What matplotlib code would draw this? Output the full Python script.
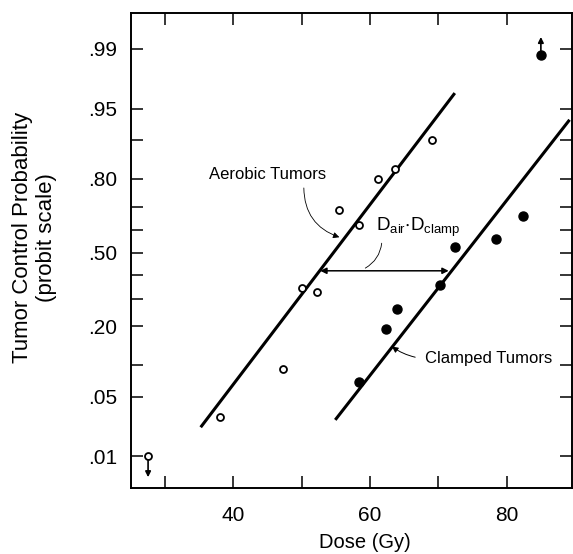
import numpy as np
import matplotlib
matplotlib.use("Agg")
import matplotlib.pyplot as plt
from matplotlib.ticker import FixedLocator, FixedFormatter, NullFormatter
from statistics import NormalDist

plt.rcParams["font.family"] = ["Liberation Sans", "DejaVu Sans"]
plt.rcParams["mathtext.fontset"] = "custom"
plt.rcParams["mathtext.rm"] = "Liberation Sans"

# aerobic tumors (open circles)
aer_dose = [27.5, 38.0, 47.2, 50.0, 52.2, 55.5, 58.4, 61.1, 63.7, 69.0]
aer_tcp = [0.01, 0.030, 0.092, 0.344, 0.327, 0.685, 0.625, 0.80, 0.83, 0.90]

# clamped tumors (filled circles)
clp_dose = [58.4, 62.3, 63.9, 70.2, 72.5, 78.4, 82.4, 85.0]
clp_tcp = [0.070, 0.191, 0.259, 0.355, 0.526, 0.564, 0.662, 0.988]

# fitted probit lines (end points)
aer_fit_dose = [35.2, 72.4]
aer_fit_tcp = [0.0231, 0.9658]
clp_fit_dose = [54.9, 89.2]
clp_fit_tcp = [0.0281, 0.9354]

# horizontal dose shift at TCP ~ .42
shift_tcp = 0.418
shift_dose = [52.7, 71.5]

y_major = [0.01, 0.05, 0.20, 0.50, 0.80, 0.95, 0.99]
y_major_labels = [".01", ".05", ".20", ".50", ".80", ".95", ".99"]
y_minor = [0.10, 0.30, 0.40, 0.60, 0.70, 0.90]
x_major = [40, 60, 80]
x_minor = [30, 50, 70]

_nd = NormalDist()


def probit(p):
    p = np.clip(np.asarray(p, dtype=float), 1e-9, 1 - 1e-9)
    return np.vectorize(_nd.inv_cdf, otypes=[float])(p)


def inv_probit(z):
    z = np.asarray(z, dtype=float)
    return np.vectorize(_nd.cdf, otypes=[float])(z)


fig = plt.figure(figsize=(5.73, 5.54), dpi=100)
ax = fig.add_axes([131 / 573, 66 / 554, 441.3 / 573, 475 / 554])
ax.set_yscale("function", functions=(probit, inv_probit))

ax.plot(aer_fit_dose, aer_fit_tcp, color="black", lw=2.2, solid_capstyle="butt")
ax.plot(clp_fit_dose, clp_fit_tcp, color="black", lw=2.2, solid_capstyle="butt")

ax.plot(aer_dose, aer_tcp, "o", ms=5, mfc="white", mec="black", mew=1.3, zorder=3)
ax.plot(clp_dose, clp_tcp, "o", ms=6.5, mfc="black", mec="black", zorder=3)

# censored points: arrows
ax.annotate("", xy=(aer_dose[0], aer_tcp[0]), xytext=(0, -15), textcoords="offset points",
            arrowprops=dict(arrowstyle="<|-", color="black", lw=1.2, shrinkA=0, shrinkB=3,
                            mutation_scale=8))
ax.annotate("", xy=(clp_dose[-1], clp_tcp[-1]), xytext=(0, 13), textcoords="offset points",
            arrowprops=dict(arrowstyle="<|-", color="black", lw=1.2, shrinkA=0, shrinkB=3,
                            mutation_scale=8))

# dose shift arrow
ax.annotate("", xy=(shift_dose[0], shift_tcp), xytext=(shift_dose[1], shift_tcp),
            arrowprops=dict(arrowstyle="<|-|>", color="black", lw=1.1, shrinkA=0, shrinkB=0,
                            mutation_scale=9))

# labels
ax.text(45.0, 0.813, "Aerobic Tumors", fontsize=12, ha="center", va="center")
ax.annotate("", xy=(55.5, 0.570), xytext=(50.3, 0.770),
            arrowprops=dict(arrowstyle="-|>", color="black", lw=0.6, shrinkA=0, shrinkB=0,
                            mutation_scale=9, connectionstyle="arc3,rad=0.35"))

ax.text(60.9, 0.598, r"$\mathregular{D_{air}{\cdot}D_{clamp}}$", fontsize=13.5,
        ha="left", va="baseline")
ax.annotate("", xy=(59.3, 0.430), xytext=(61.7, 0.543),
            arrowprops=dict(arrowstyle="-", color="black", lw=0.6, shrinkA=0, shrinkB=0,
                            connectionstyle="arc3,rad=-0.25"))

ax.text(68.05, 0.1125, "Clamped Tumors", fontsize=12, ha="left", va="center")
ax.annotate("", xy=(63.2, 0.1417), xytext=(66.6, 0.1163),
            arrowprops=dict(arrowstyle="-|>", color="black", lw=0.7, shrinkA=0, shrinkB=0,
                            mutation_scale=9, connectionstyle="arc3,rad=-0.1"))

ax.set_xlim(25, 89.6)
ax.set_ylim(0.0036, 0.9969)

ax.xaxis.set_major_locator(FixedLocator(x_major))
ax.xaxis.set_minor_locator(FixedLocator(x_minor))
ax.yaxis.set_major_locator(FixedLocator(y_major))
ax.yaxis.set_major_formatter(FixedFormatter(y_major_labels))
ax.yaxis.set_minor_locator(FixedLocator(y_minor))
ax.yaxis.set_minor_formatter(NullFormatter())

for which in ("major", "minor"):
    ax.tick_params(axis="both", which=which, direction="in", length=8.5, width=1.1,
                   top=True, right=True, labelsize=15, colors="black")
ax.tick_params(axis="x", which="major", pad=13)
ax.tick_params(axis="y", which="major", pad=10)

for s in ax.spines.values():
    s.set_linewidth(1.4)

ax.set_xlabel("Dose (Gy)", fontsize=14.5)
ax.xaxis.set_label_coords(0.53, -0.095)
ax.set_ylabel("Tumor Control Probability\n(probit scale)", fontsize=16, linespacing=1.2)
ax.yaxis.set_label_coords(-0.168, 0.527)

fig.savefig("out.png", dpi=100)
